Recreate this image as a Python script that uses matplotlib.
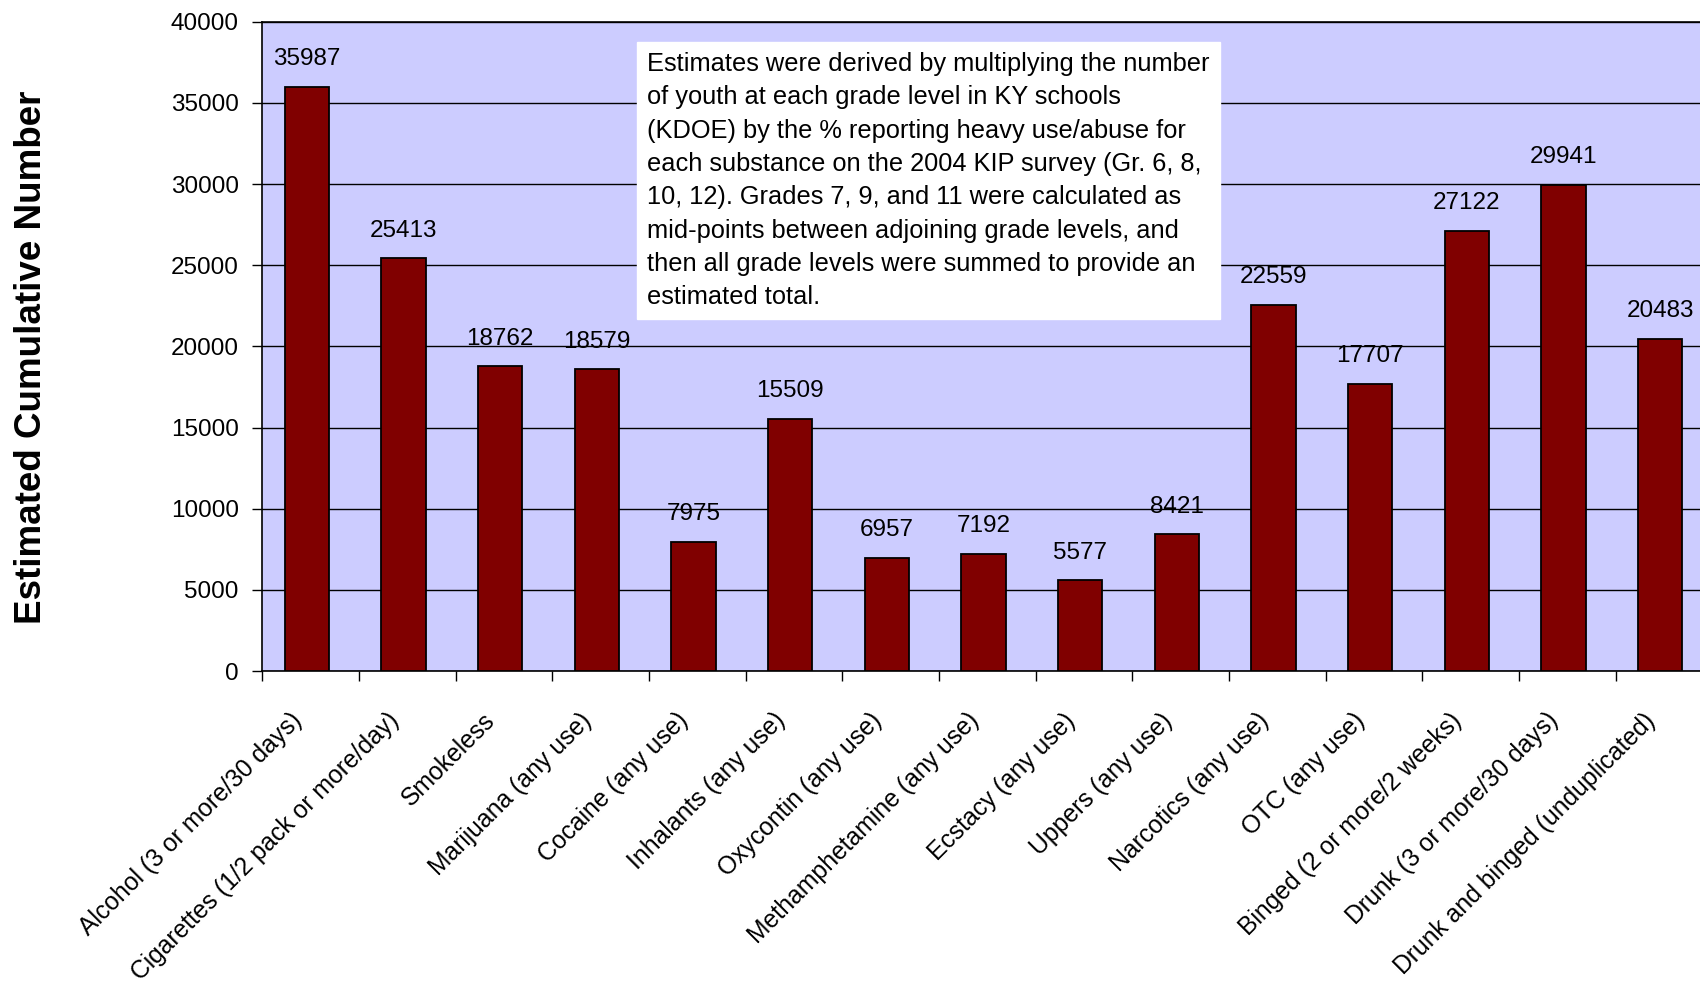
import numpy as np
import matplotlib
matplotlib.use("Agg")
import matplotlib.pyplot as plt
import matplotlib.transforms as mtransforms

plt.rcParams["font.family"] = ["Liberation Sans", "DejaVu Sans"]

# ---------------------------------------------------------------------------
# Data
# ---------------------------------------------------------------------------
categories = [
    "Alcohol (3 or more/30 days)",
    "Cigarettes (1/2 pack or more/day)",
    "Smokeless",
    "Marijuana (any use)",
    "Cocaine (any use)",
    "Inhalants (any use)",
    "Oxycontin (any use)",
    "Methamphetamine (any use)",
    "Ecstacy (any use)",
    "Uppers (any use)",
    "Narcotics (any use)",
    "OTC (any use)",
    "Binged (2 or more/2 weeks)",
    "Drunk (3 or more/30 days)",
    "Drunk and binged (unduplicated)",
]
values = [35987, 25413, 18762, 18579, 7975, 15509, 6957, 7192,
          5577, 8421, 22559, 17707, 27122, 29941, 20483]
y_ticks = list(range(0, 40001, 5000))

note = ("Estimates were derived by multiplying the number\n"
        "of youth at each grade level in KY schools\n"
        "(KDOE) by the % reporting heavy use/abuse for\n"
        "each substance on the 2004 KIP survey (Gr. 6, 8,\n"
        "10, 12). Grades 7, 9, and 11 were calculated as\n"
        "mid-points between adjoining grade levels, and\n"
        "then all grade levels were summed to provide an\n"
        "estimated total.")

# ---------------------------------------------------------------------------
# Figure
# ---------------------------------------------------------------------------
W, H = 1700, 984
fig = plt.figure(figsize=(W / 100, H / 100), dpi=100)
ax = fig.add_axes([262.4 / W, (H - 671) / H, 1450 / W, 649.3 / H])
ax.set_facecolor("#CCCCFF")

x = np.arange(len(categories))
# Excel draws the bars a touch left of the category centre
ax.bar(x - 0.04, values, width=0.46, color="#800000", edgecolor="black",
       linewidth=1.3, zorder=3)

for xi, v in zip(x, values):
    ax.annotate(str(v), (xi - 0.04, v), xytext=(0, 20),
                textcoords="offset points", ha="center", va="center",
                fontsize=17.5, color="black")

ax.set_xlim(-0.5, len(categories) - 0.5)
ax.set_ylim(0, 40000)
ax.set_yticks(y_ticks)
ax.yaxis.grid(True, color="black", linewidth=1.0, zorder=1)
ax.set_axisbelow(True)
ax.tick_params(axis="y", length=7, width=1.0, pad=10, labelsize=17.5,
               colors="black")

ax.set_xticks(x)
ax.set_xticklabels(categories, rotation=45, ha="right", va="top",
                   rotation_mode="anchor", fontsize=17.8)
ax.tick_params(axis="x", which="major", length=0, pad=27)
ax.set_xticks(np.arange(len(categories) + 1) - 0.5, minor=True)
ax.tick_params(axis="x", which="minor", length=7, width=1.0)
shift = mtransforms.ScaledTranslation(-21 / 100, 0, fig.dpi_scale_trans)
for lbl in ax.get_xticklabels():
    lbl.set_transform(lbl.get_transform() + shift)

for side in ["left", "bottom", "top"]:
    ax.spines[side].set_color("black")
    ax.spines[side].set_linewidth(1.2)
ax.spines["right"].set_visible(False)

fig.text(32 / W, 1 - 357 / H, "Estimated Cumulative Number", rotation=90,
         ha="center", va="center", fontsize=26.5, fontweight="bold")

fig.text(647 / W, 1 - 52 / H, note, ha="left", va="top", fontsize=18.3,
         linespacing=1.49,
         bbox=dict(boxstyle="square,pad=0.4", facecolor="white",
                   edgecolor="white"))

fig.savefig("out.png", dpi=100)
